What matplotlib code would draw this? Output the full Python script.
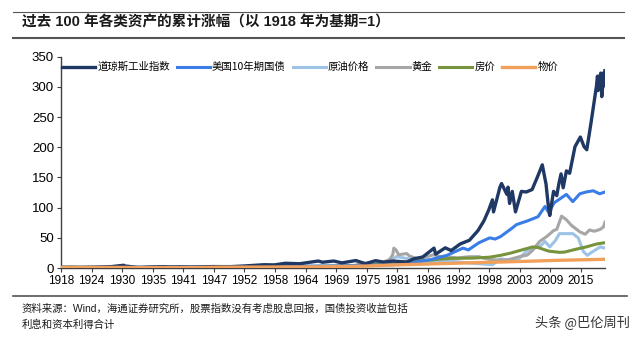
import matplotlib
matplotlib.use('Agg')
import matplotlib.pyplot as plt
import numpy as np

plt.rcParams['font.family'] = ['Liberation Sans', 'Noto Sans CJK SC']

# 道琼斯工业指数 (1918=1)
dow_x = [1918, 1919.8, 1921.6, 1924, 1925.9, 1927.5, 1929.7, 1929.9, 1930.3, 1932.5, 1934, 1937.1,
         1938.3, 1940, 1942.3, 1946.4, 1949.4, 1952, 1955.9, 1957.8, 1959.9, 1962.5, 1966.0, 1966.8,
         1968.9, 1970.4, 1973.0, 1974.8, 1976.7, 1978.2, 1980.0, 1982.5, 1983.8, 1985.5, 1987.6,
         1987.9, 1989.7, 1990.8, 1992.5, 1994.2, 1995.8, 1996.9, 1997.8, 1998.5, 1998.7, 1999.9,
         2000.2, 2001.2, 2001.4, 2001.7, 2002.2, 2002.8, 2003.9, 2004.8, 2005.9, 2006.9, 2007.8,
         2008.5, 2008.9, 2009.2, 2009.9, 2010.5, 2010.9, 2011.3, 2011.7, 2012.3, 2012.9, 2013.9,
         2014.9, 2015.6, 2016.1, 2016.9, 2017.9, 2018.1, 2018.2, 2018.7, 2018.9, 2019.3, 2019.4, 2019.5]
dow_y = [1.0, 1.3, 0.85, 1.3, 1.8, 2.4, 4.6, 3.0, 3.1, 0.55, 1.2, 2.3,
         1.5, 1.8, 1.2, 2.4, 2.1, 3.3, 5.5, 5.2, 7.9, 7.1, 11.6, 9.6,
         11.6, 8.5, 12.4, 7.3, 12.2, 9.8, 11.6, 9.8, 15.2, 18.3, 33,
         23, 33.5, 29, 40, 46, 62, 78, 96, 113, 93, 134,
         140, 122, 134, 107, 127, 93, 127, 126, 130, 151, 171,
         139, 105, 87, 127, 120, 140, 156, 133, 161, 157, 201,
         217, 201, 196, 241, 301, 318, 294, 323, 284, 324, 302, 327]

# 美国10年期国债
bond_x = [1918, 1925, 1930, 1935, 1940, 1945, 1950, 1955, 1960, 1965, 1970, 1975, 1980, 1983,
          1985, 1987, 1990, 1993, 1994, 1996, 1998, 1999, 2000, 2002, 2003, 2005, 2007, 2008.3,
          2009, 2010, 2012.3, 2013.5, 2014.8, 2016, 2017.3, 2018.5, 2019.5]
bond_y = [1.0, 1.3, 1.5, 1.9, 2.3, 2.5, 2.6, 2.7, 2.9, 3.2, 3.5, 4.5, 5.5, 8,
          11, 14, 21, 33, 30, 42, 50, 48, 52, 65, 72, 78, 85, 102,
          92, 108, 122, 110, 123, 126, 128, 123, 126]

# 原油价格
oil_x = [1918, 1925, 1931, 1940, 1950, 1960, 1970, 1973, 1974, 1978, 1979.5, 1980.6, 1983,
         1986, 1990, 1994, 1998.5, 2000, 2002, 2003.5, 2005, 2006.5, 2007.5, 2008.3, 2009.2,
         2010.2, 2011, 2013.5, 2014.5, 2015.5, 2016.2, 2017, 2018.6, 2019.5]
oil_y = [1.0, 0.9, 0.4, 0.6, 1.3, 1.5, 1.7, 2.0, 5.5, 7, 13, 19, 15,
         8, 12, 8.5, 5.5, 15, 13, 16, 29, 34, 37, 44, 35,
         45, 57, 57, 50, 27, 21, 26, 35, 33]

# 黄金
gold_x = [1918, 1933.9, 1934.1, 1967, 1968, 1970, 1971, 1972, 1973, 1974, 1975, 1976, 1977,
          1978, 1979.3, 1979.9, 1980.1, 1980.5, 1981, 1982.5, 1983, 1984.3, 1985, 1986, 1987.5,
          1989, 1990, 1992, 1994, 1996, 1997, 1998, 1999, 2001, 2002, 2003, 2004, 2005,
          2006, 2007.3, 2008.6, 2009.9, 2010.5, 2011.4, 2012.3, 2013.2, 2014.8, 2015.8, 2016.6,
          2017.5, 2018.6, 2019.2, 2019.5]
gold_y = [1.0, 1.0, 1.7, 1.7, 1.9, 1.8, 2.0, 2.8, 4.7, 7.7, 7.8, 6.0, 7.2,
          9.5, 14, 22, 33, 30, 22, 24, 20, 16, 15, 18, 22,
          18.5, 18.6, 16.7, 18.6, 18.8, 16, 14.2, 13.5, 13.1, 15, 17.5, 19.7, 21.5,
          29.4, 44, 52, 62, 64, 86, 80, 71, 60, 56, 63,
          61, 64, 68, 76]

# 房价
house_x = [1918, 1920, 1925, 1930, 1933, 1940, 1945, 1950, 1955, 1960, 1965, 1970, 1975, 1978,
           1980, 1983, 1986, 1989, 1991, 1995, 1998, 2000, 2002, 2004, 2006, 2007, 2009, 2011,
           2012, 2014, 2016, 2018, 2019.5]
house_y = [1.0, 1.2, 1.1, 1.0, 0.8, 0.9, 1.3, 2.0, 2.2, 2.5, 2.7, 3.3, 5, 7,
           9, 10.5, 12.5, 15, 16, 16.5, 18, 21, 25, 30, 35, 34, 28, 26,
           26.5, 31, 35, 40, 42]

# 物价
cpi_x = [1918, 1920, 1922, 1929, 1933, 1941, 1945, 1948, 1955, 1960, 1965, 1970, 1975, 1980,
         1985, 1990, 1995, 2000, 2005, 2010, 2015, 2019.5]
cpi_y = [1.0, 1.2, 1.05, 1.05, 0.8, 0.92, 1.1, 1.5, 1.6, 1.8, 1.9, 2.4, 3.3, 5.1,
         6.3, 7.6, 8.8, 10, 11.2, 12.6, 13.6, 14.5]

tick_labels = ['1918', '1924', '1930', '1935', '1941', '1947', '1952', '1958', '1964',
               '1969', '1975', '1981', '1986', '1992', '1998', '2003', '2009', '2015']

fig = plt.figure(figsize=(6.4, 3.38), dpi=100)
ax = fig.add_axes([0.0953, 0.207, 0.85, 0.625])

ax.plot(dow_x, dow_y, color='#1f3864', lw=2.4, label='道琼斯工业指数', zorder=6)
ax.plot(bond_x, bond_y, color='#3a7de6', lw=2.2, label='美国10年期国债', zorder=5)
ax.plot(oil_x, oil_y, color='#9dc3e6', lw=2.2, label='原油价格', zorder=2)
ax.plot(gold_x, gold_y, color='#a6a6a6', lw=2.2, label='黄金', zorder=3)
ax.plot(house_x, house_y, color='#77933c', lw=2.2, label='房价', zorder=4)
ax.plot(cpi_x, cpi_y, color='#f0a05a', lw=2.4, label='物价', zorder=7)

ax.set_xlim(1918, 2019.5)
ax.set_ylim(0, 350)
ax.set_yticks(np.arange(0, 351, 50))
ax.set_xticks(np.linspace(1918, 2015, len(tick_labels)))
ax.set_xticklabels(tick_labels)
ax.tick_params(axis='x', labelsize=8.5, length=3, color='#404040', pad=2)
ax.tick_params(axis='y', labelsize=9.5, length=3, color='#404040', pad=2)
for s in ['top', 'right']:
    ax.spines[s].set_visible(False)
for s in ['left', 'bottom']:
    ax.spines[s].set_color('#404040')
    ax.spines[s].set_linewidth(1.0)

leg = ax.legend(loc='upper left', bbox_to_anchor=(-0.012, 1.01), ncol=6, frameon=False,
                handlelength=3.2, handletextpad=0.2, columnspacing=0.65, borderaxespad=0.3,
                prop={'family': ['Noto Sans CJK SC'], 'size': 7.5})

# 标题和上下横线
fig.text(0.034, 0.935, '过去 100 年各类资产的累计涨幅（以 1918 年为基期=1）',
         fontsize=10.5, fontweight='bold', va='center', color='#1a1a1a')
fig.add_artist(plt.Line2D([0.02, 0.975], [0.965, 0.965], color='#555555', lw=0.8))
fig.add_artist(plt.Line2D([0.02, 0.975], [0.888, 0.888], color='#555555', lw=1.5))
fig.add_artist(plt.Line2D([0.02, 0.98], [0.123, 0.123], color='#555555', lw=1.2))

fig.text(0.034, 0.088, '资料来源：Wind，海通证券研究所，股票指数没有考虑股息回报，国债投资收益包括',
         fontsize=7.5, va='center', color='#1a1a1a', family=['Liberation Sans', 'Noto Sans CJK SC'])
fig.text(0.034, 0.040, '利息和资本利得合计', fontsize=7.5, va='center', color='#1a1a1a',
         family=['Noto Sans CJK SC'])
fig.text(0.985, 0.045, '头条 @巴伦周刊', fontsize=9.5, va='center', ha='right', color='#333333',
         family=['Noto Sans CJK SC'])

fig.savefig('out.png', dpi=100)
